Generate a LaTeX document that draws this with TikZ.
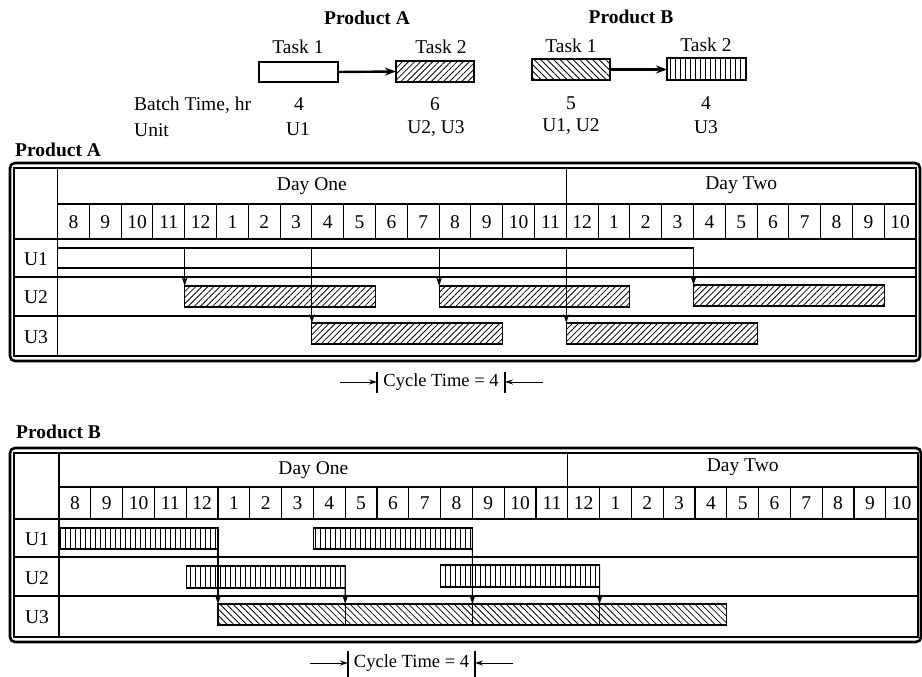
\documentclass[tikz,border=0pt]{standalone}
\usepackage{fontspec}
\setmainfont{Liberation Serif}
\usetikzlibrary{patterns.meta,arrows.meta}
\begin{document}
\begin{tikzpicture}[x=1pt,y=-1pt,
  font=\fontsize{19.5}{22}\selectfont,
  gridline/.style={line width=1.1pt},
  frameout/.style={line width=2.6pt,rounded corners=5pt},
  framein/.style={line width=1.1pt},
  bar/.style={draw,line width=1.1pt,anchor=north west,inner sep=0pt,outer sep=0pt},
  hne/.style={pattern={Lines[angle=45,distance=4.3pt,line width=0.8pt]}},
  hnw/.style={pattern={Lines[angle=-45,distance=4.6pt,line width=0.8pt]}},
  hvl/.style={pattern={Lines[angle=90,distance=5pt,line width=0.8pt]}},
  arr/.style={line width=1.1pt,-{Stealth[length=9pt,width=6pt]}},
  bigarr/.style={line width=2.4pt,-{Stealth[length=11pt,width=8pt]}},
  cyarr/.style={line width=1pt,-{Stealth[length=8pt,width=5pt]}},
  lbl/.style={inner sep=0pt},
  cyc/.style={inner sep=0pt,font=\fontsize{18.5}{22}\selectfont},
  ttl/.style={inner sep=0pt,font=\fontsize{19.5}{22}\selectfont\bfseries}
]
\useasboundingbox (0,0) rectangle (922,677);
\def\cw{31.8}

% ---------------- legend ----------------
\node[ttl] (tA) at (367,18) {Product A};
\node[ttl] (tB) at (631,17) {Product B};
\node[lbl] (tA1) at (298,47) {Task 1};
\node[lbl] (tA2) at (441,47) {Task 2};
\node[lbl] (tB1) at (571,46) {Task 1};
\node[lbl] (tB2) at (706,45) {Task 2};
\node[bar,minimum width=79,minimum height=20] (LA1) at (259,62) {};
\node[bar,hne,minimum width=78,minimum height=21] (LA2) at (396,61) {};
\node[bar,hnw,minimum width=78,minimum height=21] (LB1) at (532,59) {};
\node[bar,hvl,minimum width=79,minimum height=22] (LB2) at (667,58) {};
\draw[bigarr] (LA1.east) -- (LA2.west);
\draw[bigarr] (LB1.east) -- (LB1.east -| LB2.west);
\node[lbl,anchor=west] (bt) at (134,105) {Batch Time, hr};
\node[lbl,anchor=west] (un) at (134,130) {Unit};
\node[lbl] (nA1) at (299,104) {4};
\node[lbl] (nA2) at (435,104) {6};
\node[lbl] (nB1) at (571,103) {5};
\node[lbl] (nB2) at (706,103) {4};
\node[lbl] (uA1) at (298,129) {U1};
\node[lbl] (uA2) at (436,129) {U2, U3};
\node[lbl] (uB1) at (571,127) {U1, U2};
\node[lbl] (uB2) at (706,127) {U3};

% ---------------- Product A chart ----------------
\node[ttl,anchor=west] (pA) at (15,150) {Product A};
\def\xa{57.5}
\draw[frameout] (10,163) rectangle (920,361);
\draw[framein] (14,168) rectangle (916,356);
\draw[gridline] (\xa,168) -- (\xa,356);
\draw[gridline] (\xa,204) -- (916,204);
\draw[gridline] (14,239) -- (916,239);
\draw[gridline] (14,277) -- (916,277);
\draw[gridline] (14,316) -- (916,316);
\draw[gridline] ({\xa+16*\cw},168) -- ({\xa+16*\cw},204);
\foreach \i in {1,...,26} \draw[gridline] ({\xa+\i*\cw},204) -- ({\xa+\i*\cw},239);
\foreach \h [count=\i from 0] in {8,9,10,11,12,1,2,3,4,5,6,7,8,9,10,11,12,1,2,3,4,5,6,7,8,9,10}
  \node[lbl] (hA\i) at ({\xa+(\i+0.5)*\cw},222) {\h};
\node[lbl] (dA1) at ({\xa+8*\cw},186) {Day One};
\node[lbl] (dA2) at ({\xa+21.5*\cw},185) {Day Two};
\node[lbl] (rA1) at (36,259) {U1};
\node[lbl] (rA2) at (36,297) {U2};
\node[lbl] (rA3) at (36,337) {U3};
% U1 bars (Task 1, blank)
\node[bar,minimum width={4*\cw},minimum height=20] (a1a) at ({\xa+0*\cw},248) {};
\node[bar,minimum width={4*\cw},minimum height=20] (a1b) at ({\xa+4*\cw},248) {};
\node[bar,minimum width={4*\cw},minimum height=20] (a1c) at ({\xa+8*\cw},248) {};
\node[bar,minimum width={4*\cw},minimum height=20] (a1d) at ({\xa+12*\cw},248) {};
\node[bar,minimum width={4*\cw},minimum height=20] (a1e) at ({\xa+16*\cw},248) {};
\draw[gridline] (a1e.south east) -- (916,268);
% U2 bars
\node[bar,hne,minimum width={6*\cw},minimum height=21] (a2a) at ({\xa+4*\cw},286) {};
\node[bar,hne,minimum width={6*\cw},minimum height=21] (a2b) at ({\xa+12*\cw},286) {};
\node[bar,hne,minimum width={6*\cw},minimum height=21] (a2c) at ({\xa+20*\cw},285) {};
% U3 bars
\node[bar,hne,minimum width={6*\cw},minimum height=21] (a3a) at ({\xa+8*\cw},323) {};
\node[bar,hne,minimum width={6*\cw},minimum height=21] (a3b) at ({\xa+16*\cw},323) {};
% transfers
\draw[arr] (a1a.north east) -- (a2a.north west);
\draw[arr] (a1b.north east) -- (a3a.north west);
\draw[arr] (a1c.north east) -- (a2b.north west);
\draw[arr] (a1d.north east) -- (a3b.north west);
\draw[arr] (a1e.north east) -- (a2c.north west);
% cycle time A
\coordinate (cA1) at (377,372);
\coordinate (cA2) at (505,372);
\draw[gridline] (cA1) -- ++(0,21);
\draw[gridline] (cA2) -- ++(0,21);
\node[cyc] (cyA) at (441,382) {Cycle Time = 4};
\coordinate (cAl) at (340,382);
\coordinate (cAr) at (543,382);
\draw[cyarr] (cAl) -- (cA1 |- cAl);
\draw[cyarr] (cAr) -- (cA2 |- cAr);

% ---------------- Product B chart ----------------
\node[ttl,anchor=west] (pB) at (16,432) {Product B};
\def\xb{59}
\draw[frameout] (10,448) rectangle (921,642);
\draw[framein] (14,453) rectangle (918,637);
\draw[gridline] (\xb,453) -- (\xb,637);
\draw[gridline] (\xb,487) -- (918,487);
\draw[gridline] (14,519) -- (918,519);
\draw[gridline] (14,557) -- (918,557);
\draw[gridline] (14,596) -- (918,596);
\draw[gridline] ({\xb+16*\cw},453) -- ({\xb+16*\cw},487);
\foreach \i in {1,...,26} \draw[gridline] ({\xb+\i*\cw},487) -- ({\xb+\i*\cw},519);
\foreach \h [count=\i from 0] in {8,9,10,11,12,1,2,3,4,5,6,7,8,9,10,11,12,1,2,3,4,5,6,7,8,9,10}
  \node[lbl] (hB\i) at ({\xb+(\i+0.5)*\cw},503) {\h};
\node[lbl] (dB1) at ({\xb+8*\cw},470) {Day One};
\node[lbl] (dB2) at ({\xb+21.5*\cw},467) {Day Two};
\node[lbl] (rB1) at (37,539) {U1};
\node[lbl] (rB2) at (37,578) {U2};
\node[lbl] (rB3) at (37,617) {U3};
% U1 bars
\node[bar,hvl,minimum width={5*\cw},minimum height=21] (b1a) at ({\xb+0*\cw},528) {};
\node[bar,hvl,minimum width={5*\cw},minimum height=21] (b1b) at ({\xb+8*\cw},528) {};
% U2 bars
\node[bar,hvl,minimum width={5*\cw},minimum height=22] (b2a) at ({\xb+4*\cw},566) {};
\node[bar,hvl,minimum width={5*\cw},minimum height=22] (b2b) at ({\xb+12*\cw},565) {};
% U3 bars
\node[bar,hnw,minimum width={4*\cw},minimum height=21] (b3a) at ({\xb+5*\cw},604) {};
\node[bar,hnw,minimum width={4*\cw},minimum height=21] (b3b) at ({\xb+9*\cw},604) {};
\node[bar,hnw,minimum width={4*\cw},minimum height=21] (b3c) at ({\xb+13*\cw},604) {};
\node[bar,hnw,minimum width={4*\cw},minimum height=21] (b3d) at ({\xb+17*\cw},604) {};
% transfers
\draw[arr] (b1a.north east) -- (b3a.north west);
\draw[arr] (b2a.north east) -- (b3b.north west);
\draw[arr] (b1b.north east) -- (b3c.north west);
\draw[arr] (b2b.north east) -- (b3d.north west);
% cycle time B
\coordinate (cB1) at (348,651);
\coordinate (cB2) at (475,651);
\draw[gridline] (cB1) -- ++(0,26);
\draw[gridline] (cB2) -- ++(0,26);
\node[cyc] (cyB) at (411.5,663) {Cycle Time = 4};
\coordinate (cBl) at (310,663);
\coordinate (cBr) at (513,663);
\draw[cyarr] (cBl) -- (cB1 |- cBl);
\draw[cyarr] (cBr) -- (cB2 |- cBr);
\end{tikzpicture}
\end{document}
